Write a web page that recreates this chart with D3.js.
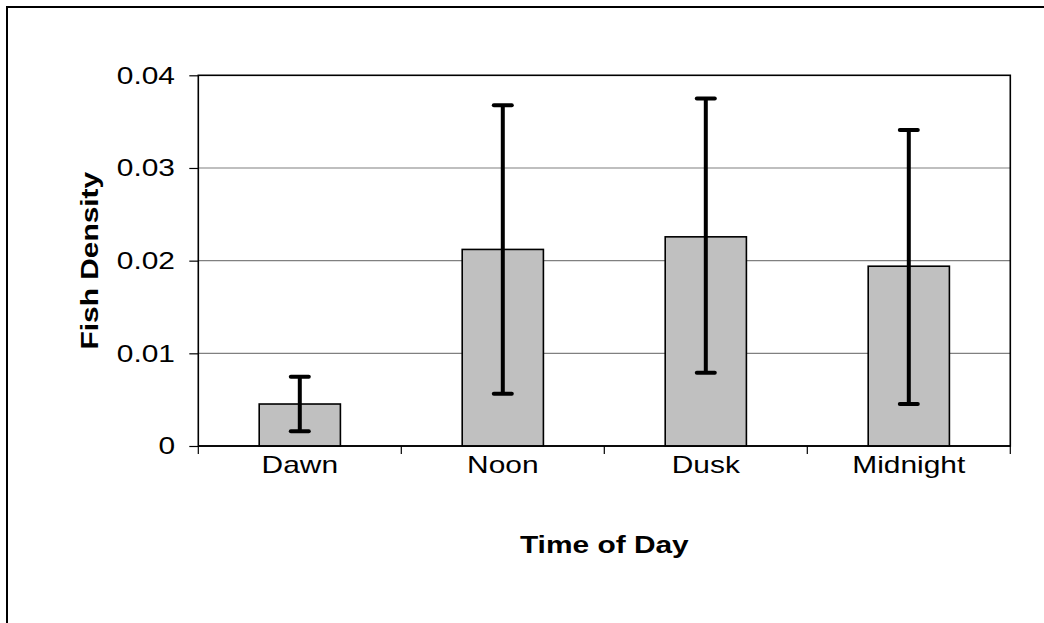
<!DOCTYPE html>
<html><head><meta charset="utf-8">
<script src="https://cdn.jsdelivr.net/npm/d3@7"></script>
<style>body{margin:0;background:#fff}svg{display:block}</style>
</head><body>
<svg id="c" width="1044" height="623"></svg>
<script>
const categories = ["Dawn", "Noon", "Dusk", "Midnight"];
const means = [0.00453, 0.02121, 0.02257, 0.0194];
const upper = [0.00747, 0.03677, 0.03749, 0.0341];
const lower = [0.00158, 0.00564, 0.0079, 0.00453];
const yTicks = [0, 0.01, 0.02, 0.03, 0.04];
const yTickLabels = ["0", "0.01", "0.02", "0.03", "0.04"];

const svg = d3.select("#c");
const L = 198.3, R = 1010.3, T = 75.3, B = 446;
const font = "'Liberation Sans', Arial, sans-serif";
const FS = 23, SX = 1.3;

svg.append("rect").attr("x", 7).attr("y", 7).attr("width", 1200).attr("height", 800)
  .attr("fill", "none").attr("stroke", "#000").attr("stroke-width", 2);

const xb = d3.scaleBand().domain(categories).range([L, R]);
const y = d3.scaleLinear().domain([0, 0.04]).range([B, T]);

function label(px, py, txt, anchor, bold, rot) {
  return svg.append("text")
    .attr("transform", `translate(${px},${py})${rot ? " rotate(" + rot + ")" : ""} scale(${SX},1)`)
    .attr("text-anchor", anchor).attr("font-family", font).attr("font-size", FS)
    .attr("font-weight", bold ? "bold" : "normal").attr("fill", "#000").text(txt);
}

// gridlines
svg.append("g").selectAll("line").data(yTicks.slice(1, 4)).join("line")
  .attr("x1", L).attr("x2", R).attr("y1", d => y(d)).attr("y2", d => y(d))
  .attr("stroke", "#808080").attr("stroke-width", 1.2);

// plot frame
svg.append("rect").attr("x", L).attr("y", T).attr("width", R - L).attr("height", B - T)
  .attr("fill", "none").attr("stroke", "#000").attr("stroke-width", 1.6);

// bars
svg.append("g").selectAll("rect").data(categories).join("rect")
  .attr("x", d => xb(d) + xb.bandwidth() * 0.3)
  .attr("width", xb.bandwidth() * 0.4)
  .attr("y", (d, i) => y(means[i]))
  .attr("height", (d, i) => y(0) - y(means[i]))
  .attr("fill", "#c0c0c0").attr("stroke", "#000").attr("stroke-width", 1.6);

// y axis ticks + labels
const yAxis = d3.axisLeft(y).tickValues(yTicks).tickFormat("").tickSize(9);
const gy = svg.append("g").attr("transform", `translate(${L},0)`).call(yAxis);
gy.select(".domain").remove();
gy.selectAll(".tick line").attr("stroke", "#000").attr("stroke-width", 1.2);
yTicks.forEach((t, i) => label(175, y(t) + FS * 0.36, yTickLabels[i], "end"));

// x axis
const gx = svg.append("g").attr("transform", `translate(0,${B})`);
gx.append("line").attr("x1", L).attr("x2", R).attr("stroke", "#000").attr("stroke-width", 1.6);
gx.selectAll("line.t").data(d3.range(categories.length + 1)).join("line").attr("class", "t")
  .attr("x1", i => L + i * xb.step()).attr("x2", i => L + i * xb.step())
  .attr("y1", 0).attr("y2", 8).attr("stroke", "#000").attr("stroke-width", 1.2);
categories.forEach(c => label(xb(c) + xb.bandwidth() / 2, 473, c, "middle"));

// error bars
const eb = svg.append("g");
categories.forEach((c, i) => {
  const cx = xb(c) + xb.bandwidth() / 2;
  eb.append("line").attr("x1", cx).attr("x2", cx).attr("y1", y(upper[i])).attr("y2", y(lower[i]))
    .attr("stroke", "#000").attr("stroke-width", 4);
  [upper[i], lower[i]].forEach(v => {
    eb.append("line").attr("x1", cx - 9).attr("x2", cx + 9).attr("y1", y(v)).attr("y2", y(v))
      .attr("stroke", "#000").attr("stroke-width", 4).attr("stroke-linecap", "round");
  });
});

// axis titles
label((L + R) / 2, 553, "Time of Day", "middle", true);
label(98, (T + B) / 2, "Fish Density", "middle", true, -90);
</script>
</body></html>
